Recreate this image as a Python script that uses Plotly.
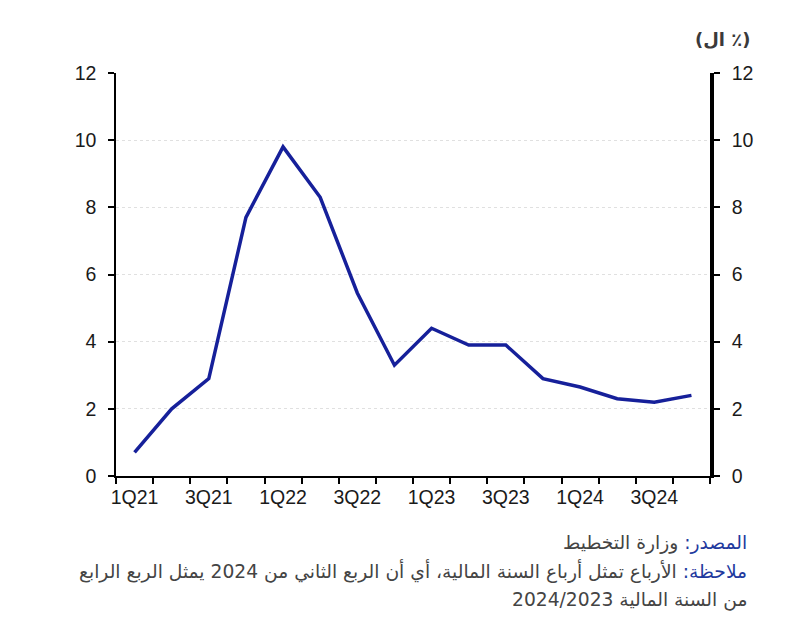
import plotly.graph_objects as go

quarters = ["1Q21", "2Q21", "3Q21", "4Q21", "1Q22", "2Q22", "3Q22", "4Q22",
            "1Q23", "2Q23", "3Q23", "4Q23", "1Q24", "2Q24", "3Q24", "4Q24"]
values = [0.7, 2.0, 2.9, 7.7, 9.8, 8.3, 5.45, 3.3, 4.4, 3.9, 3.9, 2.9, 2.65, 2.3, 2.2, 2.4]
label_every = 2
unit_label = "\u202b(٪ ال)\u202c"
source_label = "المصدر:"
source_text = " وزارة التخطيط"
note_label = "ملاحظة:"
note_text = " الأرباع تمثل أرباع السنة المالية، أي أن الربع الثاني من 2024 يمثل الربع الرابع"
note_text2 = "من السنة المالية 2024/2023"

x_idx = list(range(len(quarters)))
font_family = "Liberation Sans, Arial, sans-serif"
ar_family = "DejaVu Sans, sans-serif"

fig = go.Figure()
fig.add_trace(go.Scatter(x=x_idx, y=values, mode="lines",
                         line=dict(color="#16209a", width=3.5), showlegend=False))
fig.add_trace(go.Scatter(x=x_idx, y=values, mode="lines", yaxis="y2",
                         line=dict(color="rgba(0,0,0,0)", width=0), showlegend=False,
                         hoverinfo="skip"))

fig.update_layout(
    width=800, height=628,
    margin=dict(l=116, r=90, t=73, b=152),
    paper_bgcolor="white", plot_bgcolor="white",
    font=dict(family=font_family, size=19.5, color="#1a1a1a"),
    xaxis=dict(
        range=[-0.5, len(quarters) - 0.5],
        tickvals=x_idx[::label_every], ticktext=quarters[::label_every],
        ticks="", showgrid=False, zeroline=False,
        showline=True, linecolor="black", linewidth=1.5,
        ticklabelstandoff=3,
        minor=dict(tick0=-0.5, dtick=1, ticks="outside", ticklen=6,
                   tickcolor="black", tickwidth=1.5, showgrid=False),
        tickfont=dict(size=19.5, color="#1a1a1a"),
    ),
    yaxis=dict(
        range=[0, 12], dtick=2, ticks="outside", ticklen=6, tickwidth=1.5,
        tickcolor="black", showline=True, linecolor="black", linewidth=1.5,
        showgrid=True, gridcolor="#e0e0e0", griddash="dot", gridwidth=1,
        zeroline=False, ticklabelstandoff=8,
        tickfont=dict(size=19.5, color="#1a1a1a"),
    ),
    yaxis2=dict(
        range=[0, 12], dtick=2, ticks="outside", ticklen=6, tickwidth=1.5,
        tickcolor="black", showline=True, linecolor="black", linewidth=3.5,
        overlaying="y", side="right", showgrid=False, zeroline=False,
        ticklabelstandoff=8,
        tickfont=dict(size=19.5, color="#1a1a1a"),
    ),
)

fig.add_annotation(xref="paper", yref="paper", x=1.072, y=1.0, yshift=34,
                   text=f"<b>{unit_label}</b>", showarrow=False, xanchor="right", yanchor="middle",
                   font=dict(size=18, color="#3a3a3a", family=ar_family))

fig.add_annotation(xref="paper", yref="paper", x=1.065, y=0, yshift=-67,
                   text=f"<span style='color:#1f3a9e'>{source_label}</span>{source_text}",
                   showarrow=False, xanchor="right", yanchor="middle", align="right",
                   font=dict(size=18.7, color="#444444", family=ar_family))
fig.add_annotation(xref="paper", yref="paper", x=1.065, y=0, yshift=-95,
                   text=f"<span style='color:#1f3a9e'>{note_label}</span>{note_text}",
                   showarrow=False, xanchor="right", yanchor="middle", align="right",
                   font=dict(size=18.7, color="#444444", family=ar_family))
fig.add_annotation(xref="paper", yref="paper", x=1.065, y=0, yshift=-124,
                   text=note_text2,
                   showarrow=False, xanchor="right", yanchor="middle", align="right",
                   font=dict(size=18.7, color="#444444", family=ar_family))

fig.write_html("out.html")
